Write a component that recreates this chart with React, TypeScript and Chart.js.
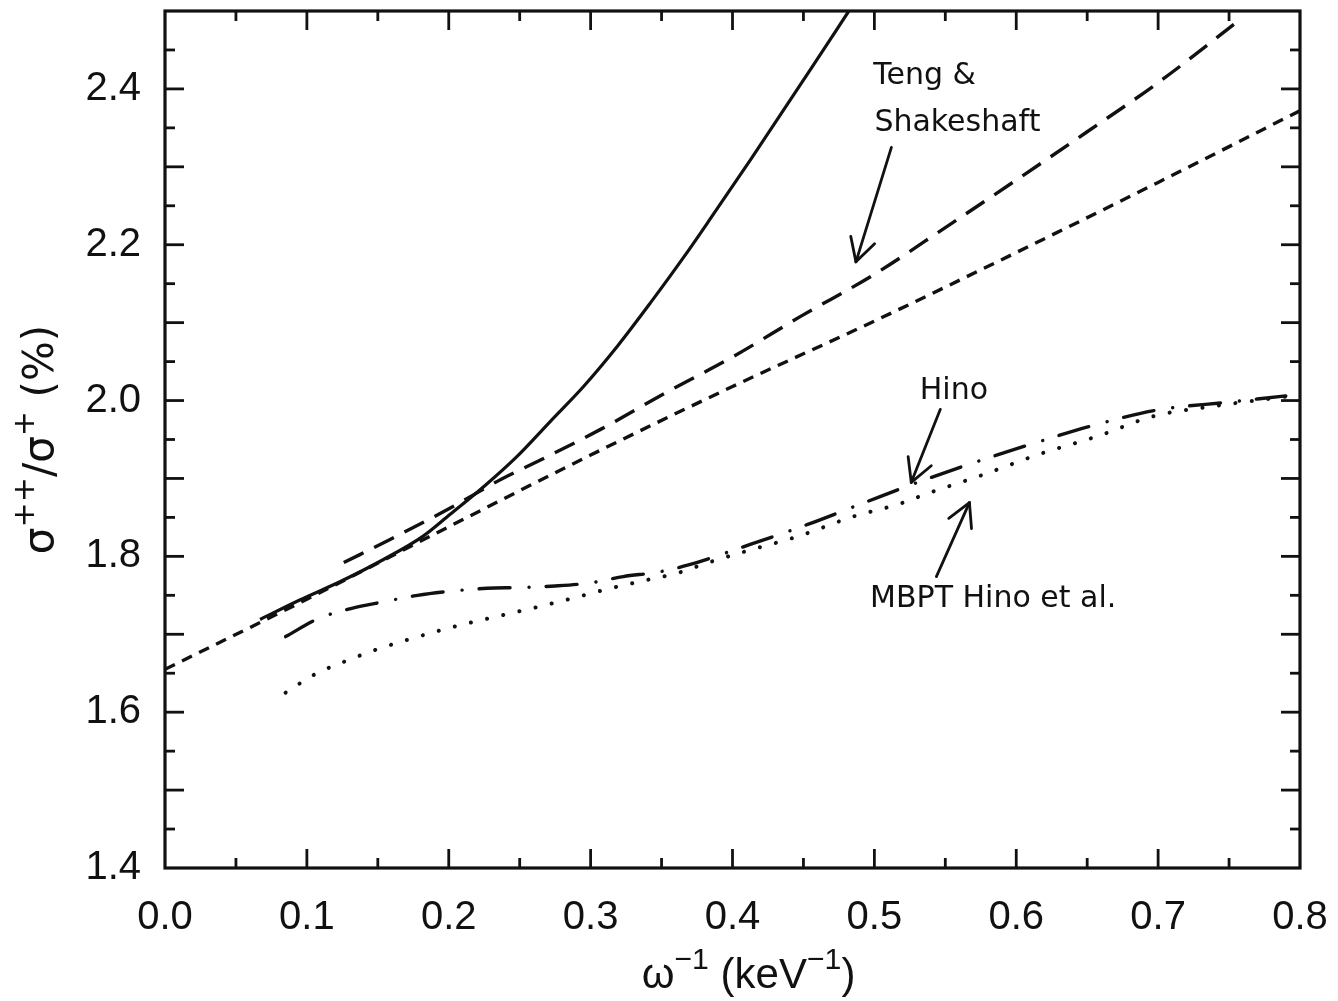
import React, { useEffect, useRef } from 'react';
import { Chart, registerables } from 'chart.js';

Chart.register(...registerables);

const INK = '#111111';

// Axis ticks (labels)
const xTickValues = [0.0, 0.1, 0.2, 0.3, 0.4, 0.5, 0.6, 0.7, 0.8];
const yTickValues = [1.4, 1.6, 1.8, 2.0, 2.2, 2.4];

// Solid curve
const solidCurve: [number, number][] = [
  [0.067, 1.719], [0.095, 1.744], [0.124, 1.768], [0.154, 1.796], [0.182, 1.826],
  [0.201, 1.854], [0.225, 1.89], [0.248, 1.928], [0.272, 1.974], [0.295, 2.018],
  [0.319, 2.07], [0.342, 2.125], [0.366, 2.185], [0.385, 2.235], [0.413, 2.31],
  [0.455, 2.425], [0.482, 2.5],
];

// Teng & Shakeshaft (long dashes)
const tengShakeshaft: [number, number][] = [
  [0.126, 1.792], [0.159, 1.822], [0.203, 1.864], [0.237, 1.899], [0.265, 1.924],
  [0.307, 1.963], [0.354, 2.011], [0.401, 2.057], [0.448, 2.108], [0.5, 2.162],
  [0.55, 2.222], [0.6, 2.283], [0.65, 2.345], [0.7, 2.408], [0.755, 2.485],
];

// Short dashed curve
const shortDashed: [number, number][] = [
  [0.0, 1.655], [0.1, 1.745], [0.2, 1.838], [0.3, 1.93], [0.4, 2.018],
  [0.5, 2.102], [0.6, 2.19], [0.7, 2.28], [0.8, 2.372],
];

// Hino (dash-dot)
const hino: [number, number][] = [
  [0.085, 1.697], [0.108, 1.72], [0.131, 1.733], [0.155, 1.742], [0.178, 1.75],
  [0.2, 1.755], [0.227, 1.759], [0.25, 1.76], [0.275, 1.762], [0.3, 1.766],
  [0.323, 1.774], [0.348, 1.78], [0.369, 1.789], [0.412, 1.815], [0.453, 1.841],
  [0.493, 1.869], [0.532, 1.896], [0.573, 1.922], [0.614, 1.946], [0.654, 1.968],
  [0.7, 1.988], [0.75, 1.998], [0.79, 2.006],
];

// MBPT Hino et al. (dotted)
const mbptHino: [number, number][] = [
  [0.085, 1.625], [0.106, 1.649], [0.128, 1.666], [0.15, 1.681], [0.173, 1.694],
  [0.196, 1.706], [0.22, 1.717], [0.244, 1.727], [0.267, 1.737], [0.291, 1.748],
  [0.314, 1.759], [0.338, 1.769], [0.362, 1.779], [0.383, 1.792], [0.414, 1.809],
  [0.445, 1.825], [0.485, 1.851], [0.517, 1.867], [0.538, 1.881], [0.577, 1.905],
  [0.616, 1.931], [0.657, 1.954], [0.697, 1.98], [0.74, 1.993], [0.79, 2.005],
];

// Annotations (data coordinates)
const noteTexts = ['Teng &', 'Shakeshaft', 'Hino', 'MBPT Hino et al.'];
const notePositions: [number, number][] = [
  [0.4992, 2.406], [0.5, 2.346], [0.532, 2.0015], [0.497, 1.7355],
];
const arrowLines: [number, number, number, number][] = [
  [0.512, 2.325, 0.487, 2.178],
  [0.5465, 1.9887, 0.526, 1.895],
  [0.5437, 1.774, 0.567, 1.869],
];

const toPts = (a: [number, number][]) => a.map(([x, y]) => ({ x, y }));

type Part = { t: string; sup?: boolean };

function drawRich(ctx: CanvasRenderingContext2D, parts: Part[], cx: number, baseline: number, size: number, family: string) {
  const supSize = size * 0.72;
  const widths = parts.map((p) => {
    ctx.font = `${p.sup ? supSize : size}px ${family}`;
    return ctx.measureText(p.t).width;
  });
  const total = widths.reduce((s, w) => s + w, 0);
  let xp = cx - total / 2;
  ctx.textAlign = 'left';
  ctx.textBaseline = 'alphabetic';
  parts.forEach((p, i) => {
    ctx.font = `${p.sup ? supSize : size}px ${family}`;
    ctx.fillText(p.t, xp, p.sup ? baseline - size * 0.45 : baseline);
    xp += widths[i];
  });
}

const overlay = {
  id: 'overlay',
  afterDraw(chart: any) {
    const { ctx, chartArea: a } = chart;
    const xs = chart.scales.x;
    const ys = chart.scales.y;
    ctx.save();
    ctx.strokeStyle = INK;
    ctx.fillStyle = INK;
    ctx.lineCap = 'butt';
    // frame
    ctx.lineWidth = 3.2;
    ctx.strokeRect(a.left, a.top, a.right - a.left, a.bottom - a.top);
    // ticks
    ctx.lineWidth = 2.8;
    const seg = (x1: number, y1: number, x2: number, y2: number) => {
      ctx.beginPath();
      ctx.moveTo(x1, y1);
      ctx.lineTo(x2, y2);
      ctx.stroke();
    };
    for (let i = 1; i < 16; i++) {
      const v = i * 0.05;
      const len = i % 2 === 0 ? 19 : 10;
      const px = xs.getPixelForValue(v);
      seg(px, a.bottom, px, a.bottom - len);
      seg(px, a.top, px, a.top + len);
    }
    for (let i = 1; i < 22; i++) {
      const v = 1.4 + i * 0.05;
      const len = i % 2 === 0 ? 19 : 10;
      const py = ys.getPixelForValue(v);
      seg(a.left, py, a.left + len, py);
      seg(a.right, py, a.right - len, py);
    }
    // annotations
    ctx.font = '30px "DejaVu Sans"';
    ctx.textAlign = 'left';
    ctx.textBaseline = 'alphabetic';
    noteTexts.forEach((t, i) => {
      const [vx, vy] = notePositions[i];
      ctx.fillText(t, xs.getPixelForValue(vx), ys.getPixelForValue(vy));
    });
    // arrows
    ctx.lineWidth = 2.8;
    ctx.lineCap = 'round';
    arrowLines.forEach(([x1, y1, x2, y2]) => {
      const p1x = xs.getPixelForValue(x1);
      const p1y = ys.getPixelForValue(y1);
      const p2x = xs.getPixelForValue(x2);
      const p2y = ys.getPixelForValue(y2);
      seg(p1x, p1y, p2x, p2y);
      const ang = Math.atan2(p1y - p2y, p1x - p2x);
      const L = 26;
      const da = 0.5;
      seg(p2x, p2y, p2x + L * Math.cos(ang + da), p2y + L * Math.sin(ang + da));
      seg(p2x, p2y, p2x + L * Math.cos(ang - da), p2y + L * Math.sin(ang - da));
    });
    // x title
    ctx.fillStyle = INK;
    drawRich(
      ctx,
      [{ t: 'ω' }, { t: '−1', sup: true }, { t: ' (keV' }, { t: '−1', sup: true }, { t: ')' }],
      (a.left + a.right) / 2 + 16,
      988,
      42,
      '"Liberation Sans"'
    );
    // y title
    ctx.save();
    ctx.translate(0, (a.top + a.bottom) / 2);
    ctx.rotate(-Math.PI / 2);
    drawRich(
      ctx,
      [{ t: 'σ' }, { t: '++', sup: true }, { t: '/σ' }, { t: '+', sup: true }, { t: ' (%)' }],
      0,
      53,
      42,
      '"DejaVu Sans"'
    );
    ctx.restore();
    ctx.restore();
  },
};

const zeroPad = (s: any) => {
  s.paddingTop = 0;
  s.paddingBottom = 0;
  s.paddingLeft = 0;
  s.paddingRight = 0;
};

export default function App() {
  const ref = useRef<HTMLCanvasElement | null>(null);
  useEffect(() => {
    if (!ref.current) return;
    const base = {
      borderColor: INK,
      pointRadius: 0,
      fill: false,
      tension: 0,
      cubicInterpolationMode: 'monotone' as const,
    };
    const chart = new Chart(ref.current, {
      type: 'line',
      data: {
        datasets: [
          { ...base, label: 'solid', data: toPts(solidCurve), borderWidth: 3.2 },
          { ...base, label: 'Teng & Shakeshaft', data: toPts(tengShakeshaft), borderWidth: 3.4, borderDash: [22, 12] },
          { ...base, label: 'short', data: toPts(shortDashed), borderWidth: 3.4, borderDash: [11, 8] },
          { ...base, label: 'Hino', data: toPts(hino), borderWidth: 3.4, borderDash: [31, 19, 0.1, 17], borderCapStyle: 'round' },
          { ...base, label: 'MBPT Hino et al.', data: toPts(mbptHino), borderWidth: 4, borderDash: [0.1, 16.5], borderCapStyle: 'round' },
        ] as any,
      },
      options: {
        animation: false,
        responsive: true,
        maintainAspectRatio: false,
        layout: { padding: { top: 11, right: 38, left: 0, bottom: 0 } },
        plugins: { legend: { display: false }, tooltip: { enabled: false } },
        scales: {
          x: {
            type: 'linear',
            min: 0,
            max: 0.8,
            afterBuildTicks: (s: any) => {
              s.ticks = xTickValues.map((v) => ({ value: v }));
            },
            afterFit: (s: any) => {
              s.height = 133;
              zeroPad(s);
            },
            ticks: {
              autoSkip: false,
              maxRotation: 0,
              padding: 26,
              color: INK,
              font: { family: '"Liberation Sans"', size: 40 },
              callback: (v: any) => Number(v).toFixed(1),
            },
            grid: { display: false, drawTicks: false },
            border: { display: false },
          },
          y: {
            type: 'linear',
            min: 1.4,
            max: 2.5,
            afterBuildTicks: (s: any) => {
              s.ticks = yTickValues.map((v) => ({ value: v }));
            },
            afterFit: (s: any) => {
              s.width = 165;
              zeroPad(s);
            },
            ticks: {
              autoSkip: false,
              padding: 24,
              color: INK,
              font: { family: '"Liberation Sans"', size: 40 },
              callback: (v: any) => Number(v).toFixed(1),
            },
            grid: { display: false, drawTicks: false },
            border: { display: false },
          },
        },
      } as any,
      plugins: [overlay],
    });
    return () => chart.destroy();
  }, []);
  return (
    <div style={{ position: 'fixed', left: 0, top: 0, width: '1338px', height: '1001px', background: '#fff' }}>
      <canvas ref={ref} />
    </div>
  );
}
